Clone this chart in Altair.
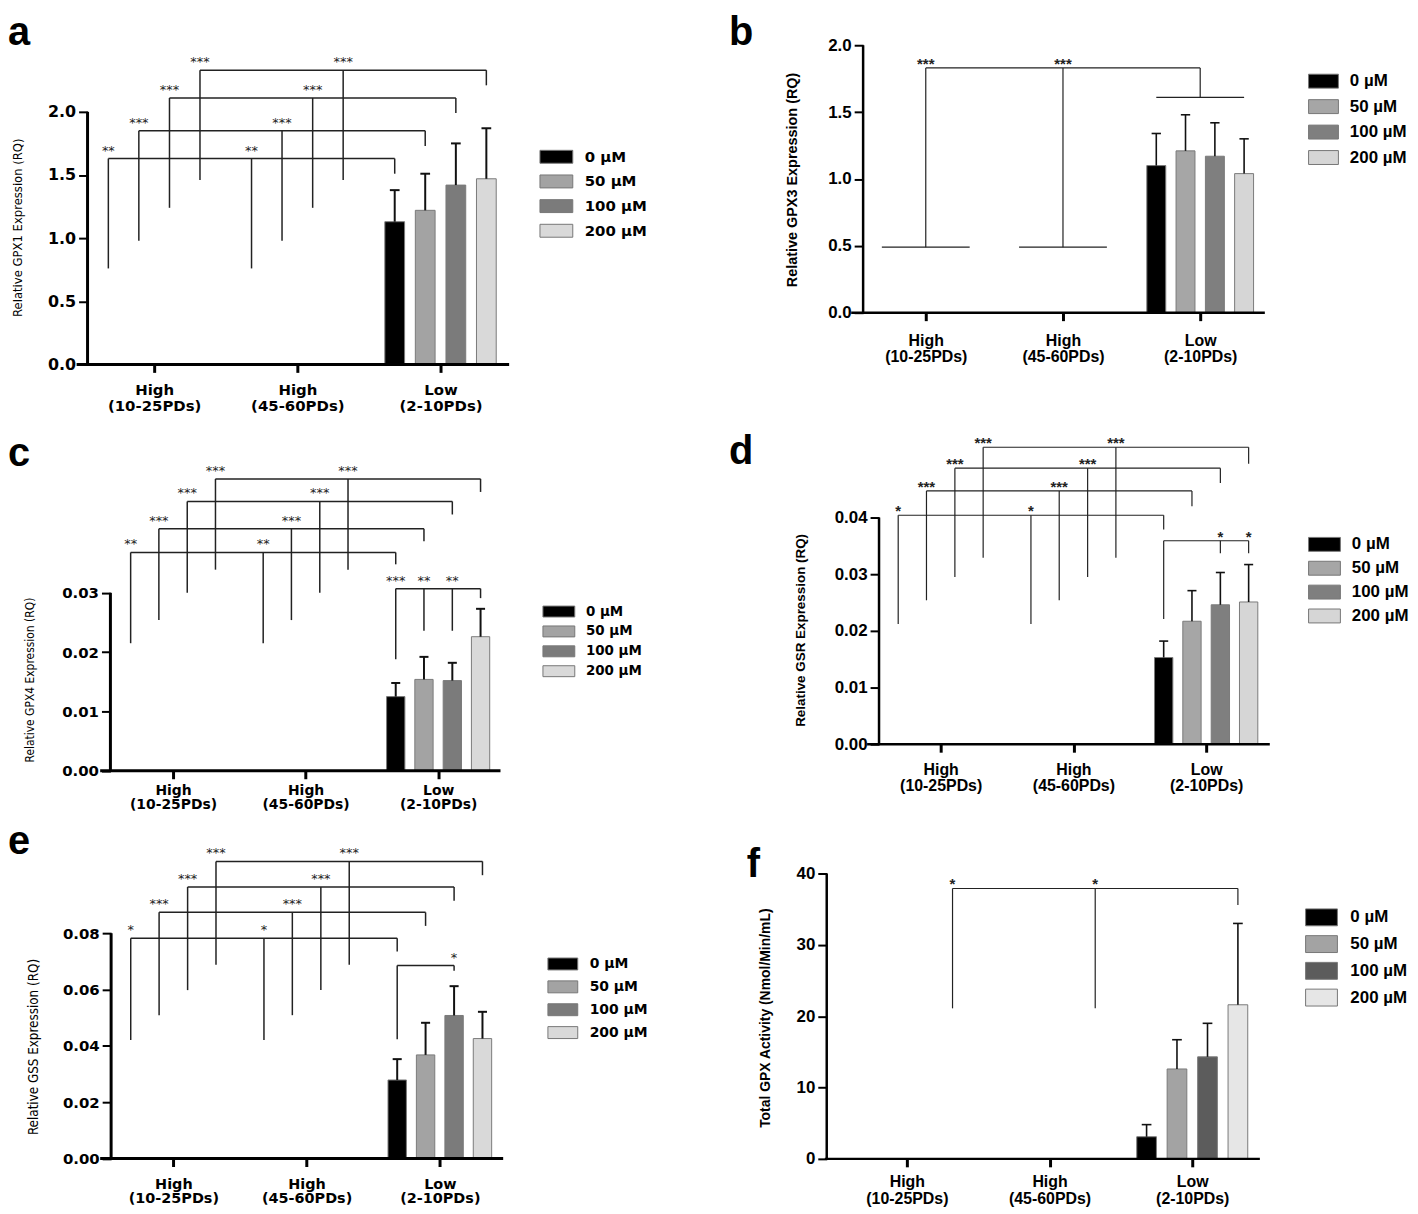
import math
import altair as alt
import pandas as pd

# ---------------- data ----------------
CONC = ["0 \u00b5M", "50 \u00b5M", "100 \u00b5M", "200 \u00b5M"]
GROUP_TOP = ["High", "High", "Low"]
GROUP_BOTTOM = ["(10-25PDs)", "(45-60PDs)", "(2-10PDs)"]

# a  GPX1
A_MEAN = [1.13, 1.22, 1.42, 1.47]
A_ERR = [1.38, 1.51, 1.75, 1.87]
A_LEVEL = [1.63, 1.85, 2.11, 2.33]
A_STEM = [0.76, 0.98, 1.24, 1.46]
A_END = [1.51, 1.73, 1.99, 2.21]
A_STARS = ["**", "***", "***", "***"]

# b  GPX3
B_MEAN = [1.10, 1.21, 1.17, 1.04]
B_ERR = [1.34, 1.48, 1.42, 1.30]
B_TBAR = [0.49, 0.49, 1.61]
B_TOP = 1.83
B_STARS = ["***", "***"]

# c  GPX4
C_MEAN = [0.0125, 0.0154, 0.0152, 0.0226]
C_ERR = [0.0148, 0.0192, 0.0182, 0.0273]
C_LEVEL = [0.0368, 0.0408, 0.0454, 0.0492]
C_STEM = [0.0215, 0.0254, 0.0300, 0.0339]
C_END = [0.0348, 0.0387, 0.0432, 0.0470]
C_STARS = ["**", "***", "***", "***"]
C_IN_LEVEL = 0.0307
C_IN_IDX = [0, 1, 2, 3]
C_IN_END = [0.0188, 0.0236, 0.0236, 0.0291]
C_IN_STARS = ["***", "**", "**", ""]

# d  GSR
D_MEAN = [0.0153, 0.0217, 0.0246, 0.0251]
D_ERR = [0.0182, 0.0271, 0.0303, 0.0317]
D_LEVEL = [0.0404, 0.0447, 0.0487, 0.0524]
D_STEM = [0.0212, 0.0254, 0.0295, 0.0329]
D_END = [0.0379, 0.0420, 0.0461, 0.0495]
D_STARS = ["*", "***", "***", "***"]
D_IN_LEVEL = 0.0359
D_IN_IDX = [0, 2, 3]
D_IN_END = [0.0221, 0.0337, 0.0337]
D_IN_STARS = ["", "*", "*"]

# e  GSS
E_MEAN = [0.0279, 0.0368, 0.0508, 0.0426]
E_ERR = [0.0353, 0.0482, 0.0612, 0.0521]
E_LEVEL = [0.0782, 0.0874, 0.0964, 0.1055]
E_STEM = [0.0421, 0.0509, 0.0598, 0.0688]
E_END = [0.0735, 0.0826, 0.0915, 0.1006]
E_STARS = ["*", "***", "***", "***"]
E_IN_LEVEL = 0.0685
E_IN_IDX = [0, 2]
E_IN_END = [0.0424, 0.0667]
E_IN_STARS = ["", "*"]

# f  total GPX activity
F_MEAN = [3.1, 12.6, 14.3, 21.6]
F_ERR = [4.8, 16.7, 19.0, 33.0]
F_IDX = [3]
F_LEVEL = [37.9]
F_STEM = [21.1]
F_END = [35.6]
F_STARS = ["*"]

# ---------------- geometry helpers ----------------
OFFS = [-0.32, -0.107, 0.107, 0.32]
BAR_HALF = 0.069
CAP_HALF = 0.034
GROUP_POS = [0.5, 1.5, 2.5]


def label_expr():
    arr = ["['%s','%s']" % (t, b) for t, b in zip(GROUP_TOP, GROUP_BOTTOM)]
    return "datum.value < 1 ? %s : datum.value < 2 ? %s : %s" % tuple(arr)


def cross(idx, level, stem, end, stars):
    segs, txt = [], []
    for i, lv, st, en, s in zip(idx, level, stem, end, stars):
        o = OFFS[i]
        for g in GROUP_POS[:2]:
            segs.append((g + o, g + o, st, lv))
            txt.append((g + o, lv, s))
        segs.append((GROUP_POS[0] + o, GROUP_POS[2] + o, lv, lv))
        segs.append((GROUP_POS[2] + o, GROUP_POS[2] + o, en, lv))
    return segs, txt


def within(level, idx, end, stars):
    g = GROUP_POS[2]
    segs = [(g + OFFS[idx[0]], g + OFFS[idx[-1]], level, level)]
    txt = []
    for i, en, s in zip(idx, end, stars):
        segs.append((g + OFFS[i], g + OFFS[i], en, level))
        if s:
            txt.append((g + OFFS[i], level, s))
    return segs, txt


def tbars(levels, top, stars):
    segs, txt = [], []
    for g, lv in zip(GROUP_POS, levels):
        segs.append((g + OFFS[0], g + OFFS[3], lv, lv))
        segs.append((g, g, lv, top))
    segs.append((GROUP_POS[0], GROUP_POS[2], top, top))
    for g, s in zip(GROUP_POS[:2], stars):
        txt.append((g, top, s))
    return segs, txt


NARROW = "DejaVu Sans Condensed, Liberation Sans Narrow, Liberation Sans, sans-serif"

STY_L = dict(tick_font="DejaVu Sans", xl_font="DejaVu Sans",
             star_font="DejaVu Sans", star_fs=13, star_w="normal", star_dy=-4,
             axis_w=3, brk_w=1.5, err_w=2, yt_font=NARROW,
             yt_w="normal", leg_font="DejaVu Sans")
STY_R = dict(tick_font="Liberation Sans", xl_font="Liberation Sans",
             star_font="Liberation Sans", star_fs=15, star_w="bold", star_dy=1,
             axis_w=2.5, brk_w=1.2, err_w=1.6, yt_font="Liberation Sans",
             yt_w="bold", leg_font="Liberation Sans")

GRAY_A = ["#000000", "#a3a3a3", "#7b7b7b", "#d9d9d9"]
GRAY_B = ["#000000", "#a6a6a6", "#7f7f7f", "#d6d6d6"]
GRAY_F = ["#000000", "#a3a3a3", "#5c5c5c", "#e6e6e6"]


def panel(letter, lay, sty, mean, err, colors, segs, txt, ytitle, yticks, yfmt, leg):
    L, T, W, H = lay["L"], lay["T"], lay["W"], lay["H"]
    g1, gs, y0, k = lay["g1"], lay["gs"], lay["y0"], lay["k"]

    def px2x(px):
        return 0.5 + (px - g1) / gs

    xsc = alt.Scale(domain=[px2x(L), px2x(L + W)], nice=False, zero=False)
    ysc = alt.Scale(domain=[(y0 - T - H) / k, (y0 - T) / k], nice=False, zero=False)

    bars = pd.DataFrame({
        "conc": CONC,
        "x": [GROUP_POS[2] + o - BAR_HALF for o in OFFS],
        "x2": [GROUP_POS[2] + o + BAR_HALF for o in OFFS],
        "y": mean,
        "y2": [0.0] * 4,
    })
    erows = []
    for o, m, e in zip(OFFS, mean, err):
        c = GROUP_POS[2] + o
        erows.append((c, c, m, e))
        erows.append((c - CAP_HALF, c + CAP_HALF, e, e))
    errs = pd.DataFrame(erows, columns=["x", "x2", "y", "y2"])
    brk = pd.DataFrame(segs, columns=["x", "x2", "y", "y2"])
    axl = pd.DataFrame([
        (px2x(lay["yax"]), px2x(lay["yax"]), 0.0, yticks[-1]),
        (px2x(lay["xs"]), px2x(lay["xe"]), 0.0, 0.0),
    ], columns=["x", "x2", "y", "y2"])
    stars = pd.DataFrame(txt, columns=["x", "y", "t"])

    xaxis = alt.Axis(values=GROUP_POS, labelExpr=label_expr(), domain=False, grid=False,
                     tickSize=8, tickWidth=3, tickColor="black",
                     labelFont=sty["xl_font"], labelFontSize=lay["xfs"], labelFontWeight="bold",
                     labelColor="black", labelLineHeight=lay["xlh"], labelBaseline="top",
                     labelPadding=lay["xpad"], labelOverlap=False, labelFlush=False,
                     title=None, offset=-((T + H) - y0))
    yaxis = alt.Axis(values=yticks, format=yfmt, domain=False, grid=False,
                     tickSize=9, tickWidth=2, tickColor="black",
                     labelFont=sty["tick_font"], labelFontSize=lay["yfs"],
                     labelFontWeight="bold", labelColor="black", labelPadding=3,
                     labelOverlap=False, labelFlush=False,
                     title=ytitle, titleFont=sty["yt_font"], titleFontSize=lay["tfs"],
                     titleFontWeight=sty["yt_w"], titleColor="black", titleAngle=270,
                     titleBaseline="bottom", titleAlign="center",
                     titleX=lay["tr"] - lay["yax"], titleY=lay["tc"] - T,
                     offset=-(lay["yax"] - L))

    h, w, fs = leg["h"], leg["w"], leg["fs"]
    size_entry = max(math.ceil(h + 1), fs)
    r = w / h
    legend = alt.Legend(
        title=None, orient="none", padding=0,
        legendX=leg["left"] - L + leg["fx"], legendY=leg["c0"] - leg["eh"] / 2 - T,
        symbolType="M%.3f,-1H%.3fV1H%.3fZ" % (-r, r, -r),
        symbolSize=h * h, symbolStrokeColor="#777777", symbolStrokeWidth=1,
        symbolOffset=w / 2 - size_entry / 2,
        labelOffset=(leg["lab"] - leg["left"]) - size_entry + leg["fl"],
        rowPadding=leg["sp"] - leg["eh"],
        labelFont=sty["leg_font"], labelFontSize=fs, labelFontWeight="bold",
        labelColor="black")

    X = alt.X("x:Q", scale=xsc, axis=xaxis)
    Y = alt.Y("y:Q", scale=ysc, axis=yaxis)

    bar_layer = alt.Chart(bars).mark_bar(stroke="#7a7a7a", strokeWidth=1).encode(
        x=X, x2="x2:Q", y=Y, y2="y2:Q",
        color=alt.Color("conc:N", scale=alt.Scale(domain=CONC, range=colors), legend=legend),
    )

    def rules(df, width, color):
        return alt.Chart(df).mark_rule(strokeWidth=width, color=color).encode(
            x=X, x2="x2:Q", y=Y, y2="y2:Q")

    star_layer = alt.Chart(stars).mark_text(
        font=sty["star_font"], fontSize=sty["star_fs"], fontWeight=sty["star_w"],
        baseline="alphabetic", align="center", dy=sty["star_dy"], color="#222222",
    ).encode(x=X, y=Y, text="t:N")

    return alt.layer(
        bar_layer,
        rules(errs, sty["err_w"], "#111111"),
        rules(brk, sty["brk_w"], "#222222"),
        rules(axl, sty["axis_w"], "#000000"),
        star_layer,
    ).properties(
        width=W, height=H,
        title=alt.TitleParams(text=letter, anchor="start", frame="group",
                              font="Liberation Sans", fontSize=40, fontWeight="bold",
                              color="black", baseline="alphabetic", offset=0,
                              dx=lay["ldx"], dy=lay["ldy"]),
    )


LAY = {
    "a": dict(L=77, T=42, W=435, H=321, g1=155, gs=144, y0=363, k=127, yax=88, xs=77, xe=512,
              tr=25, tc=225, tfs=13, yfs=16, xfs=15, xlh=16, xpad=10, ldx=-69, ldy=40),
    "b": dict(L=830, T=42, W=447, H=321, g1=931, gs=138, y0=311, k=134.5, yax=868, xs=856, xe=1272,
              tr=804, tc=177, tfs=14.5, yfs=17, xfs=16, xlh=16.5, xpad=12, ldx=-97, ldy=49),
    "c": dict(L=77, T=447, W=435, H=325, g1=174, gs=133.3, y0=771.7, k=5966.7, yax=111, xs=100.7,
              xe=503.3, tr=37, tc=680, tfs=12, yfs=15, xfs=14, xlh=13.5, xpad=5, ldx=-69, ldy=58),
    "d": dict(L=830, T=447, W=447, H=325, g1=946, gs=133.5, y0=745, k=5700, yax=884, xs=872, xe=1277,
              tr=812, tc=630, tfs=13.5, yfs=17, xfs=16, xlh=16.5, xpad=9, ldx=-97, ldy=68),
    "e": dict(L=77, T=856, W=435, H=306, g1=174.3, gs=134, y0=1161.7, k=2833, yax=111.7, xs=100.7,
              xe=506, tr=41, tc=1049, tfs=13.4, yfs=15, xfs=14.5, xlh=14.5, xpad=11, ldx=-69, ldy=47),
    "f": dict(L=830, T=856, W=447, H=306, g1=912, gs=143.5, y0=1162, k=7.175, yax=831.4, xs=829.5,
              xe=1267, tr=777, tc=1020, tfs=14, yfs=17, xfs=16, xlh=17, xpad=7, ldx=-79, ldy=63),
}
LEG = {
    "a": dict(h=13, w=33, left=540, c0=155, sp=24.4, lab=585, fs=15, eh=16.6, fx=3, fl=-9),
    "b": dict(h=14, w=30, left=1308, c0=79, sp=25.3, lab=1350, fs=17, eh=18.7, fx=8, fl=-7),
    "c": dict(h=11, w=32, left=543, c0=613, sp=20.4, lab=586, fs=13.5, eh=16.4, fx=3, fl=-9),
    "d": dict(h=14, w=32, left=1308, c0=545, sp=24, lab=1352, fs=17, eh=19, fx=8, fl=-8),
    "e": dict(h=12, w=30, left=548, c0=967, sp=23, lab=590, fs=14, eh=16, fx=3, fl=-8),
    "f": dict(h=17, w=32, left=1305, c0=921, sp=26.7, lab=1350, fs=17, eh=21.8, fx=8, fl=-7),
}

sa, ta = cross([0, 1, 2, 3], A_LEVEL, A_STEM, A_END, A_STARS)
sb, tb = tbars(B_TBAR, B_TOP, B_STARS)
sc1, tc1 = cross([0, 1, 2, 3], C_LEVEL, C_STEM, C_END, C_STARS)
sc2, tc2 = within(C_IN_LEVEL, C_IN_IDX, C_IN_END, C_IN_STARS)
sd1, td1 = cross([0, 1, 2, 3], D_LEVEL, D_STEM, D_END, D_STARS)
sd2, td2 = within(D_IN_LEVEL, D_IN_IDX, D_IN_END, D_IN_STARS)
se1, te1 = cross([0, 1, 2, 3], E_LEVEL, E_STEM, E_END, E_STARS)
se2, te2 = within(E_IN_LEVEL, E_IN_IDX, E_IN_END, E_IN_STARS)
sf, tf = cross(F_IDX, F_LEVEL, F_STEM, F_END, F_STARS)

pa = panel("a", LAY["a"], STY_L, A_MEAN, A_ERR, GRAY_A, sa, ta,
           "Relative GPX1 Expression (RQ)", [0, 0.5, 1.0, 1.5, 2.0], ".1f", LEG["a"])
pb = panel("b", LAY["b"], STY_R, B_MEAN, B_ERR, GRAY_B, sb, tb,
           "Relative GPX3 Expression (RQ)", [0, 0.5, 1.0, 1.5, 2.0], ".1f", LEG["b"])
pc = panel("c", LAY["c"], STY_L, C_MEAN, C_ERR, GRAY_A, sc1 + sc2, tc1 + tc2,
           "Relative GPX4 Expression (RQ)", [0, 0.01, 0.02, 0.03], ".2f", LEG["c"])
pd_ = panel("d", LAY["d"], STY_R, D_MEAN, D_ERR, GRAY_B, sd1 + sd2, td1 + td2,
            "Relative GSR Expression (RQ)", [0, 0.01, 0.02, 0.03, 0.04], ".2f", LEG["d"])
pe = panel("e", LAY["e"], STY_L, E_MEAN, E_ERR, GRAY_A, se1 + se2, te1 + te2,
           "Relative GSS Expression (RQ)", [0, 0.02, 0.04, 0.06, 0.08], ".2f", LEG["e"])
pf = panel("f", LAY["f"], STY_R, F_MEAN, F_ERR, GRAY_F, sf, tf,
           "Total GPX Activity  (Nmol/Min/mL)", [0, 10, 20, 30, 40], "d", LEG["f"])

chart = alt.concat(
    pa, pb, pc, pd_, pe, pf, columns=2,
    spacing={"row": 84, "column": 318}, bounds="flush",
).resolve_scale(
    x="independent", y="independent", color="independent"
).resolve_axis(
    x="independent", y="independent"
).resolve_legend(
    color="independent"
).properties(
    autosize=alt.AutoSizeParams(type="none"),
    padding={"left": 69, "top": 34, "right": 1341, "bottom": 1170},
    background="white",
).configure_view(stroke=None)

chart.save("out.html", embed_options={"renderer": "svg", "actions": False})
